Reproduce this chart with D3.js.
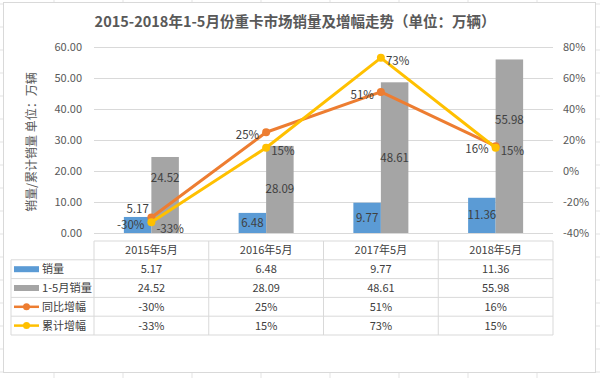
<!DOCTYPE html>
<html>
<head>
<meta charset="utf-8">
<script src="https://cdn.jsdelivr.net/npm/d3@7"></script>
<style>
  body { margin: 0; background: #fff; }
  svg text { font-family: "Noto Sans CJK SC", "Noto Sans", sans-serif; }
</style>
</head>
<body>
<div class="chart"></div>
<script>
// data
const categories = ['2015年5月', '2016年5月', '2017年5月', '2018年5月']
const monthSales = [5.17, 6.48, 9.77, 11.36]
const ytdSales = [24.52, 28.09, 48.61, 55.98]
const yoyGrowth = [-30, 25, 51, 16]
const ytdGrowth = [-33, 15, 73, 15]
const leftTicks = [0, 10, 20, 30, 40, 50, 60]
const rightTicks = [-40, -20, 0, 20, 40, 60, 80]
const seriesNames = ['销量', '1-5月销量', '同比增幅', '累计增幅']

const blue = '#5B9BD5', gray = '#A5A5A5', orange = '#ED7D31', yellow = '#FFC000'
const textColor = '#595959'

const width = 600, height = 378
const plot = { left: 94, right: 553, top: 47, bottom: 233 }

const svg = d3.select('.chart')
  .append('svg')
  .attr('width', width)
  .attr('height', height)

// faint spreadsheet cells behind the chart
const cellsX = d3.range(54, 600, 69)
const cellsY = d3.range(4, 378, 23)
svg.append('g').selectAll('line.cx')
  .data(cellsX).join('line')
  .attr('x1', d => d).attr('x2', d => d).attr('y1', 0).attr('y2', height)
  .attr('stroke', '#e3e3e3')
svg.append('g').selectAll('line.cy')
  .data(cellsY).join('line')
  .attr('x1', 0).attr('x2', width).attr('y1', d => d).attr('y2', d => d)
  .attr('stroke', '#e3e3e3')

svg.append('rect')
  .attr('x', 3.5).attr('y', 2.5)
  .attr('width', 592).attr('height', 370)
  .attr('fill', '#fff')
  .attr('stroke', '#d9d9d9')

// title
svg.append('text')
  .attr('x', 295).attr('y', 27)
  .attr('text-anchor', 'middle')
  .attr('font-size', 14.5)
  .attr('font-weight', 'bold')
  .attr('fill', textColor)
  .text('2015-2018年1-5月份重卡市场销量及增幅走势（单位：万辆）')

// scales
const xScale = d3.scaleBand().domain(categories).range([plot.left, plot.right])
const innerW = 55
const subScale = d3.scaleBand().domain(['m', 'y']).range([0, innerW])
const barX = (c, k) => xScale(c) + (xScale.bandwidth() - innerW) / 2 + subScale(k)
const yLeft = d3.scaleLinear().domain([0, 60]).range([plot.bottom, plot.top])
const yRight = d3.scaleLinear().domain([-40, 80]).range([plot.bottom, plot.top])
const cx = c => xScale(c) + xScale.bandwidth() / 2

// gridlines
const grid = svg.append('g')
  .attr('transform', `translate(${plot.left},0)`)
  .call(d3.axisLeft(yLeft).tickValues(leftTicks).tickSize(-(plot.right - plot.left)).tickFormat(''))
grid.select('.domain').remove()
grid.selectAll('line').attr('stroke', '#d9d9d9')

// axes
const yAxisL = svg.append('g')
  .attr('transform', `translate(${plot.left},0)`)
  .call(d3.axisLeft(yLeft).tickValues(leftTicks).tickSize(0).tickPadding(12).tickFormat(d3.format('.2f')))
const yAxisR = svg.append('g')
  .attr('transform', `translate(${plot.right},0)`)
  .call(d3.axisRight(yRight).tickValues(rightTicks).tickSize(0).tickPadding(10).tickFormat(d => d + '%'))
;[yAxisL, yAxisR].forEach(g => {
  g.select('.domain').remove()
  g.selectAll('text').attr('font-size', 11).attr('fill', textColor)
    .style('font-family', '"Noto Sans CJK SC", sans-serif')
})

svg.append('text')
  .attr('transform', 'translate(36,142) rotate(-90)')
  .attr('text-anchor', 'middle')
  .attr('font-size', 12)
  .attr('fill', textColor)
  .text('销量/累计销量 单位：万辆')

// bars
svg.append('g').selectAll('rect')
  .data(categories).join('rect')
  .attr('x', (c, i) => barX(c, 'm'))
  .attr('width', subScale.bandwidth())
  .attr('y', (c, i) => yLeft(monthSales[i]))
  .attr('height', (c, i) => yLeft(0) - yLeft(monthSales[i]))
  .attr('fill', blue)
svg.append('g').selectAll('rect')
  .data(categories).join('rect')
  .attr('x', (c, i) => barX(c, 'y'))
  .attr('width', subScale.bandwidth())
  .attr('y', (c, i) => yLeft(ytdSales[i]))
  .attr('height', (c, i) => yLeft(0) - yLeft(ytdSales[i]))
  .attr('fill', gray)

// bar labels
const labelSize = 11.5
svg.append('g').selectAll('text')
  .data(categories).join('text')
  .attr('x', c => barX(c, 'm') + subScale.bandwidth() / 2)
  .attr('y', (c, i) => {
    const top = yLeft(monthSales[i]), mid = (top + yLeft(0)) / 2
    return (yLeft(0) - top < 18 ? top - 8 : mid) + 4
  })
  .attr('text-anchor', 'middle')
  .attr('font-size', labelSize)
  .attr('fill', '#404040')
  .text((c, i) => monthSales[i].toFixed(2))

const grayShift = [-17, 0, 0, -26] // moved by hand in the original
svg.append('g').selectAll('text')
  .data(categories).join('text')
  .attr('x', c => barX(c, 'y') + subScale.bandwidth() / 2)
  .attr('y', (c, i) => (yLeft(ytdSales[i]) + yLeft(0)) / 2 + grayShift[i] + 4)
  .attr('text-anchor', 'middle')
  .attr('font-size', labelSize)
  .attr('fill', '#404040')
  .text((c, i) => ytdSales[i].toFixed(2))

// lines
function drawLine(values, color, side) {
  const line = d3.line()
    .x((d, i) => cx(categories[i]))
    .y(d => yRight(d))
  svg.append('path')
    .datum(values)
    .attr('d', line)
    .attr('fill', 'none')
    .attr('stroke', color)
    .attr('stroke-width', 3)
    .attr('stroke-linejoin', 'round')
  svg.append('g').selectAll('circle')
    .data(values).join('circle')
    .attr('cx', (d, i) => cx(categories[i]))
    .attr('cy', d => yRight(d))
    .attr('r', 4)
    .attr('fill', color)
  svg.append('g').selectAll('text')
    .data(values).join('text')
    .attr('x', (d, i) => cx(categories[i]) + (side === 'left' ? -7 : 5))
    .attr('y', (d, i) => yRight(d) + (i === 0 ? 11 : 7))
    .attr('text-anchor', side === 'left' ? 'end' : 'start')
    .attr('font-size', labelSize)
    .attr('fill', '#404040')
    .text(d => d + '%')
}
drawLine(yoyGrowth, orange, 'left')
drawLine(ytdGrowth, yellow, 'right')

// data table
const rowTop = 241, rowH = 18.8
const legendLeft = 11
const table = svg.append('g').attr('stroke', '#d9d9d9').attr('fill', 'none')
const rowLines = d3.range(0, 6).map(r => rowTop + r * rowH)
table.selectAll('line.h')
  .data(rowLines).join('line')
  .attr('x1', (d, r) => r === 0 ? plot.left : legendLeft)
  .attr('x2', plot.right)
  .attr('y1', d => d).attr('y2', d => d)
const colLines = categories.map(c => xScale(c)).concat([plot.right])
table.selectAll('line.v')
  .data(colLines).join('line')
  .attr('x1', d => d).attr('x2', d => d)
  .attr('y1', rowTop).attr('y2', rowTop + 5 * rowH)
table.append('line')
  .attr('x1', legendLeft).attr('x2', legendLeft)
  .attr('y1', rowTop + rowH).attr('y2', rowTop + 5 * rowH)

const cellText = (x, y, s, anchor) => svg.append('text')
  .attr('x', x).attr('y', y)
  .attr('text-anchor', anchor || 'middle')
  .attr('font-size', 11)
  .attr('fill', '#404040')
  .text(s)

categories.forEach((c, i) => {
  cellText(cx(c), rowTop + rowH / 2 + 4, c)
  cellText(cx(c), rowTop + rowH * 1.5 + 4, monthSales[i].toFixed(2))
  cellText(cx(c), rowTop + rowH * 2.5 + 4, ytdSales[i].toFixed(2))
  cellText(cx(c), rowTop + rowH * 3.5 + 4, yoyGrowth[i] + '%')
  cellText(cx(c), rowTop + rowH * 4.5 + 4, ytdGrowth[i] + '%')
})

// legend keys inside the table
const keyColors = [blue, gray, orange, yellow]
seriesNames.forEach((name, k) => {
  const yMid = rowTop + rowH * (k + 1.5)
  if (k < 2) {
    svg.append('rect')
      .attr('x', 14).attr('y', yMid - 3)
      .attr('width', 25).attr('height', 6)
      .attr('fill', keyColors[k])
  } else {
    svg.append('line')
      .attr('x1', 14).attr('x2', 39).attr('y1', yMid).attr('y2', yMid)
      .attr('stroke', keyColors[k]).attr('stroke-width', 2.5)
    svg.append('circle')
      .attr('cx', 26.5).attr('cy', yMid).attr('r', 3.5)
      .attr('fill', keyColors[k])
  }
  const t = cellText(42, yMid + 4, name, 'start')
  if (k === 1) t.attr('textLength', 50).attr('lengthAdjust', 'spacingAndGlyphs')
})
</script>
</body>
</html>
